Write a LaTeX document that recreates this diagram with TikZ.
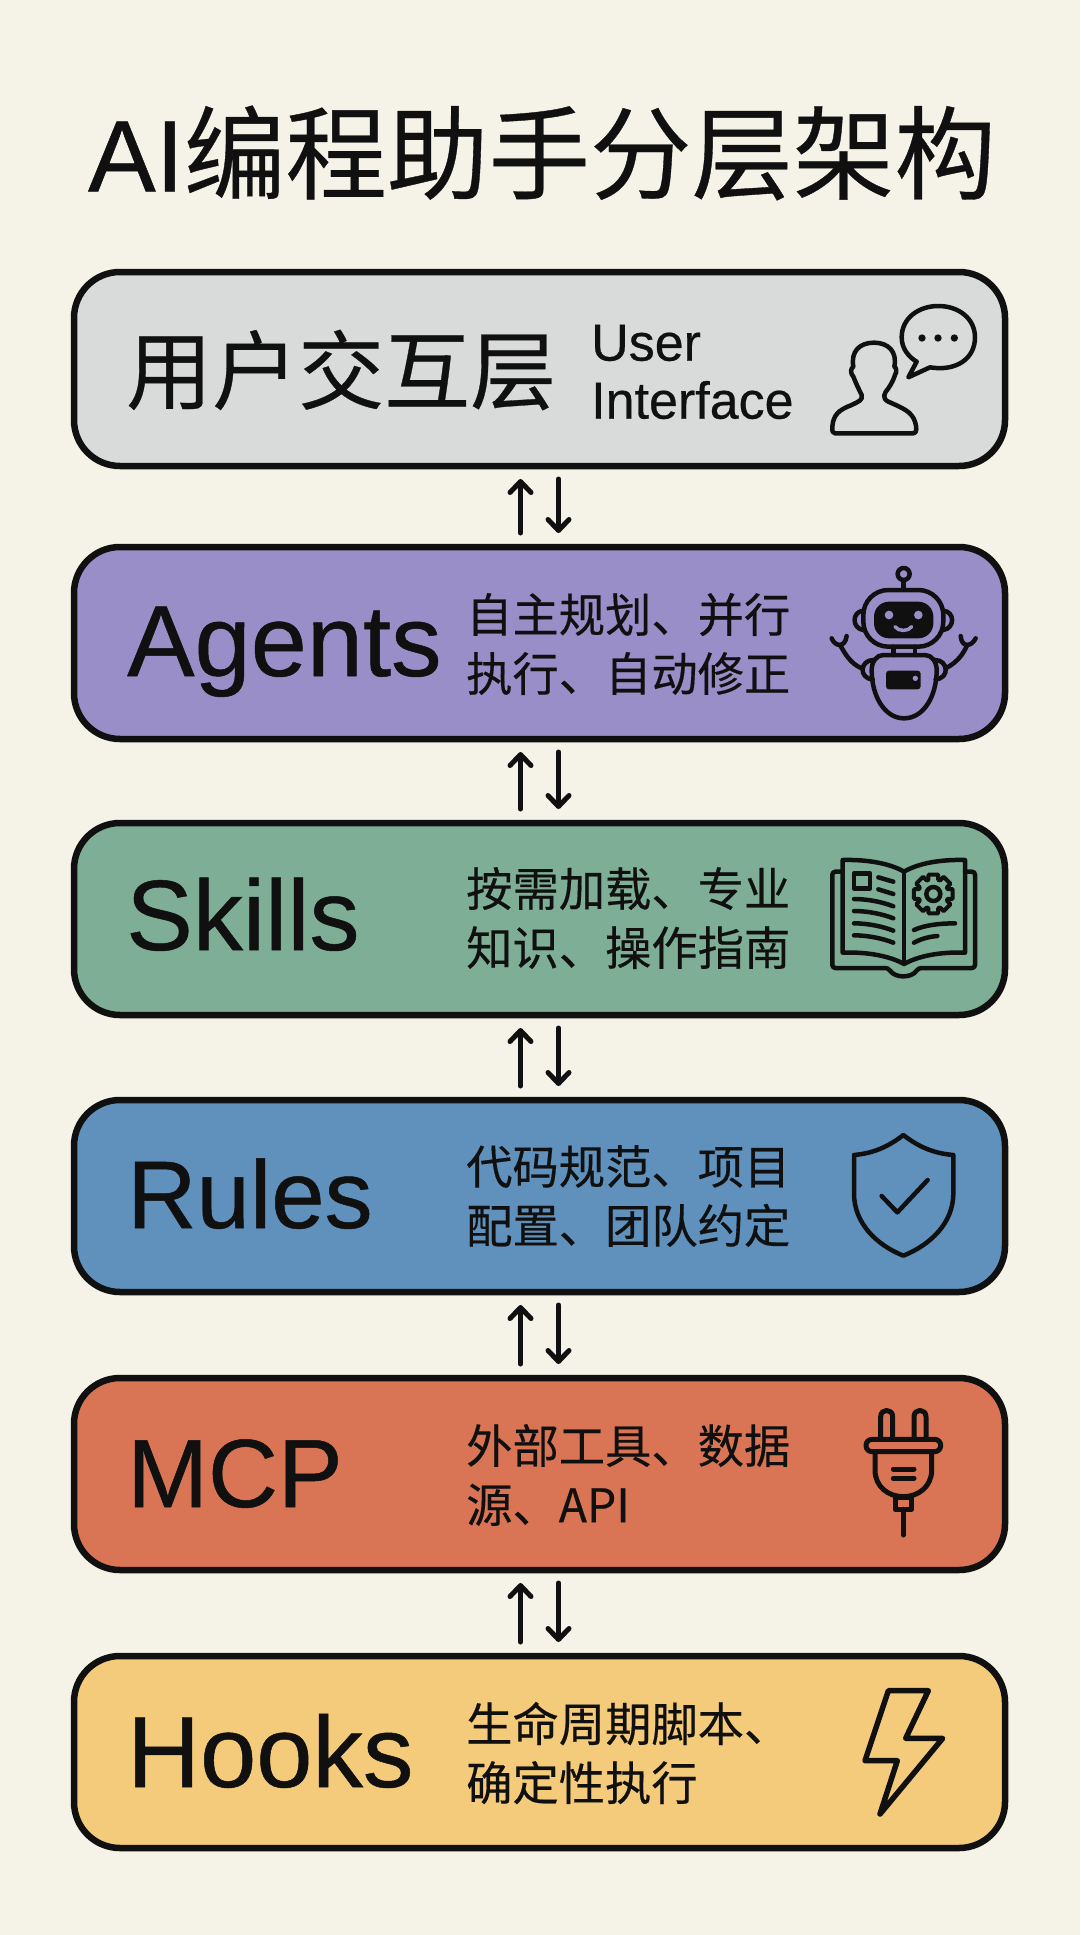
\documentclass[tikz,border=0pt]{standalone}
\usepackage{fontspec}
\setmainfont{Liberation Sans}
\newfontfamily\cjk[FakeBold=0.35]{Noto Sans CJK SC}
\newfontfamily\lat[FakeBold=0.5]{Liberation Sans}
\usetikzlibrary{arrows.meta,calc}
\definecolor{pagebg}{HTML}{F5F2E7}
\definecolor{ink}{HTML}{101010}
\definecolor{cA}{HTML}{D9DADA}
\definecolor{cB}{HTML}{9A8EC8}
\definecolor{cC}{HTML}{7FAE96}
\definecolor{cD}{HTML}{5F91BC}
\definecolor{cE}{HTML}{D97555}
\definecolor{cF}{HTML}{F4CB7A}
\tikzset{
  layerbox/.style={draw=ink,line width=6.5pt,rounded corners=46pt,minimum width=931pt,outer sep=0pt,inner sep=0pt},
  bigtext/.style={anchor=base west,inner sep=0pt,text=ink},
  desc/.style={anchor=west,inner sep=0pt,text=ink,align=left,font=\fontsize{46.3}{59}\selectfont\cjk},
  flow/.style={draw=ink,line width=5pt,line cap=round,-{Straight Barb[length=11pt,width=21pt,round]}},
  icon/.style={draw=ink,line width=4.5pt,line cap=round,line join=round},
  third/.style={xscale=1/3,yscale=1/3}
}
\begin{document}
\begin{tikzpicture}[x=1pt,y=-1pt]
\useasboundingbox (0,0) rectangle (1080,1935);
\fill[pagebg] (0,0) rectangle (1080,1935);
\node[inner sep=0pt,text=ink,font=\fontsize{101.5}{102}\selectfont] (title) at (542,153) {{\lat AI}{\cjk 编程助手分层架构}};
\node[layerbox,fill=cA,minimum height=194pt] (b1) at (539.5,369) {};
\node[layerbox,fill=cB,minimum height=192pt] (b2) at (539.5,643) {};
\node[layerbox,fill=cC,minimum height=192pt] (b3) at (539.5,919) {};
\node[layerbox,fill=cD,minimum height=192pt] (b4) at (539.5,1196) {};
\node[layerbox,fill=cE,minimum height=192pt] (b5) at (539.5,1474) {};
\node[layerbox,fill=cF,minimum height=192pt] (b6) at (539.5,1752) {};
\foreach \u/\l in {b1/b2,b2/b3,b3/b4,b4/b5,b5/b6}{
  \draw[flow] ([xshift=-19pt,yshift=14pt]\l.north) -- ([xshift=-19pt,yshift=-13pt]\u.south);
  \draw[flow] ([xshift=19pt,yshift=-13pt]\u.south) -- ([xshift=19pt,yshift=14pt]\l.north);
}
\node[anchor=west,inner sep=0pt,text=ink,font=\fontsize{86}{86}\selectfont\cjk] (t1) at (126,370) {用户交互层};
\node[inner sep=0pt,anchor=west,text=ink,align=left,font=\fontsize{52}{58}\selectfont\lat] (d1) at (591,372) {User\\Interface};
\node[bigtext,font=\fontsize{101}{101}\selectfont\lat] (t2) at (127,676) {Agents};
\node[desc] (d2) at (466,644) {自主规划、并行\\执行、自动修正};
\node[bigtext,font=\fontsize{100}{100}\selectfont\lat] (t3) at (126,950) {Skills};
\node[bigtext,font=\fontsize{96}{96}\selectfont\lat] (t4) at (127,1228) {Rules};
\node[desc] (d3) at (466,918) {按需加载、专业\\知识、操作指南};
\node[desc] (d4) at (466,1196) {代码规范、项目\\配置、团队约定};
\node[bigtext,font=\fontsize{97}{97}\selectfont\lat] (t5) at (127,1507) {MCP};
\node[desc] (d5) at (466,1475) {外部工具、数据\\源、API};
\node[bigtext,font=\fontsize{101}{101}\selectfont\lat] (t6) at (127,1787) {Hooks};
\node[desc] (d6) at (466,1753) {生命周期脚本、\\确定性执行};
% user icon
\begin{scope}[shift={(780,280)},third]
\draw[icon] (165,460) -- (400,460) .. controls (412,460) and (410,440) .. (405,425) .. controls (395,395) and (370,385) .. (325,365) .. controls (305,355) and (312,340) .. (325,325) .. controls (335,310) and (340,300) .. (345,285) .. controls (352,275) and (348,262) .. (343,260) .. controls (352,215) and (325,188) .. (282,188) .. controls (238,188) and (212,215) .. (220,260) .. controls (212,265) and (210,280) .. (220,290) .. controls (228,310) and (235,325) .. (245,345) .. controls (250,360) and (235,365) .. (215,375) .. controls (175,390) and (160,405) .. (157,440) .. controls (155,455) and (160,460) .. (165,460) -- cycle;
\draw[icon] (450,262) .. controls (530,275) and (585,235) .. (585,172) .. controls (585,115) and (535,78) .. (475,78) .. controls (415,78) and (365,115) .. (365,172) .. controls (365,205) and (385,230) .. (410,245) -- (385,292) -- cycle;
\fill[ink] (426,174) circle (11) (474,174) circle (11) (523,174) circle (11);
\end{scope}
% robot icon
\begin{scope}[shift={(780,550)},third]
\draw[icon] (371,72) circle (18);
\draw[icon] (371,90) -- (371,118);
\draw[icon,rounded corners=25pt] (250,120) rectangle (490,290);
\fill[ink,rounded corners=15pt] (282,155) rectangle (460,265);
\fill[cB] (327,195) circle (13) (415,195) circle (13);
\draw[line width=3.5pt,draw=cB,line cap=round] (345,230) .. controls (355,245) and (385,245) .. (395,230);
\draw[icon] (250,182) .. controls (215,185) and (215,235) .. (250,240);
\draw[icon] (490,182) .. controls (525,185) and (525,235) .. (490,240);
\draw[icon] (340,290) -- (340,315) (405,290) -- (405,315);
\draw[icon] (310,315) -- (435,315) .. controls (455,315) and (470,335) .. (470,360) .. controls (470,440) and (430,505) .. (372,505) .. controls (315,505) and (275,440) .. (275,360) .. controls (275,335) and (290,315) .. (310,315) -- cycle;
\draw[icon] (280,330) .. controls (240,330) and (235,385) .. (278,388);
\draw[icon] (465,330) .. controls (505,330) and (510,385) .. (467,388);
\draw[icon] (245,355) .. controls (210,340) and (195,310) .. (180,285);
\draw[icon] (155,265) .. controls (165,290) and (195,295) .. (200,258);
\draw[icon] (497,355) .. controls (535,335) and (550,310) .. (562,285);
\draw[icon] (542,258) .. controls (545,295) and (575,290) .. (587,265);
\fill[ink,rounded corners=3pt] (318,362) rectangle (422,418);
\fill[cB] (406,385) circle (8);
\end{scope}
% book icon
\begin{scope}[shift={(800,830)},third]
\draw[icon] (312,125) .. controls (270,100) and (200,88) .. (128,90) -- (128,368) .. controls (200,365) and (270,378) .. (312,402) .. controls (355,378) and (420,365) .. (495,368) -- (495,90) .. controls (420,88) and (355,100) .. (312,125) -- cycle;
\draw[icon] (312,125) -- (312,402);
\draw[icon,rounded corners=3pt] (128,125) -- (97,125) -- (97,414) -- (265,414) .. controls (285,445) and (335,445) .. (355,414) -- (525,414) -- (525,125) -- (495,125);
\draw[icon] (162,130) rectangle (210,175);
\draw[icon] (235,142) -- (280,155) (235,178) -- (280,192);
\foreach \yy in {207,243,280,316}{
  \draw[icon] (162,\yy) .. controls (205,\yy) and (250,\yy+10) .. (280,\yy+22);
}
\draw[icon] (342,300) .. controls (375,285) and (420,280) .. (465,280);
\draw[icon] (342,338) .. controls (360,328) and (385,320) .. (412,318);
\begin{scope}[shift={(400,192)}]
\draw[icon,line width=4pt] (76:60) \foreach \a in {0,45,...,315}{ -- ({\a+90-14}:60) -- ({\a+90+14}:60) -- ({\a+90+19}:45) -- ({\a+90+26}:45) } -- cycle;
\draw[icon] (0,0) circle (21);
\end{scope}
\end{scope}
% shield icon
\begin{scope}[shift={(820,1110)},third]
\draw[icon] (250,75) .. controls (205,110) and (160,130) .. (102,135) -- (102,250) .. controls (102,340) and (170,405) .. (250,437) .. controls (330,405) and (400,340) .. (400,250) -- (400,135) .. controls (340,130) and (295,110) .. (250,75) -- cycle;
\draw[icon] (185,258) -- (232,307) -- (323,210);
\end{scope}
% plug icon
\begin{scope}[shift={(840,1390)},third]
\draw[icon,line width=5pt] (122,148) -- (122,80) .. controls (122,55) and (158,55) .. (158,80) -- (158,148);
\draw[icon,line width=5pt] (222,148) -- (222,80) .. controls (222,55) and (258,55) .. (258,80) -- (258,148);
\draw[icon,line width=5pt,rounded corners=6pt] (78,148) rectangle (302,185);
\draw[icon,line width=5pt] (105,185) -- (105,240) .. controls (105,290) and (145,320) .. (190,320) .. controls (235,320) and (275,290) .. (275,240) -- (275,185);
\draw[icon,line width=5pt] (160,237) -- (222,237) (160,265) -- (222,265);
\draw[icon,line width=5pt] (165,322) rectangle (215,358);
\draw[icon,line width=5pt] (190,358) -- (190,435);
\end{scope}
% bolt icon
\begin{scope}[shift={(840,1670)},third]
\draw[icon,line width=5.5pt] (145,62) -- (265,62) -- (197,205) -- (308,205) -- (120,432) -- (172,272) -- (75,272) -- cycle;
\end{scope}
\end{tikzpicture}
\end{document}
